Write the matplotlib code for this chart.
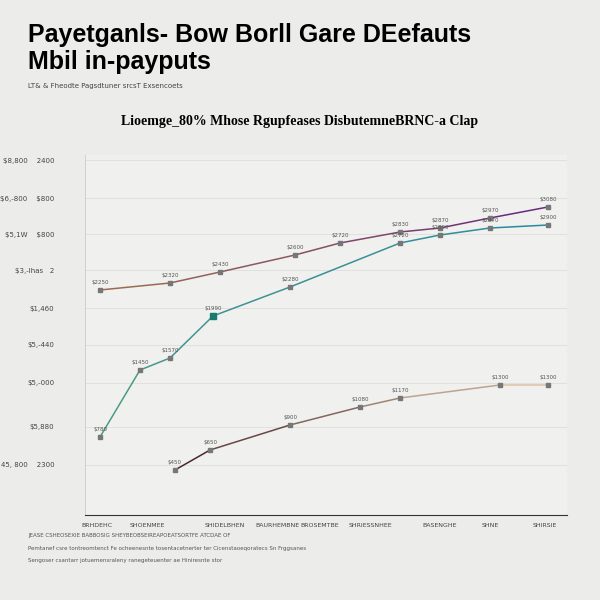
import matplotlib
matplotlib.use("Agg")
import matplotlib.pyplot as plt
from matplotlib.colors import LinearSegmentedColormap

plt.rcParams["text.usetex"] = False

# data (x in category-space, y in chart units)
upper_x = [15, 85, 135, 210, 255, 315, 355, 405, 463]
upper_y = [225, 232, 243, 260, 272, 283, 287, 297, 308]
mid_x = [15, 55, 85, 128, 205, 315, 355, 405, 463]
mid_y = [78, 145, 157, 199, 228, 272, 280, 287, 290]
low_x = [90, 125, 205, 275, 315, 415, 463]
low_y = [45, 65, 90, 108, 117, 130, 130]

ytick_vals = [50, 88, 132, 170, 207, 245, 281, 317, 355]
ytick_labels = ["45, 800    2300", "$5,880", "$5,-000", "$5,-440", "$1,460",
                "$3,-Ihas   2", "$5,1W    $800", "$6,-800    $800",
                "$8,800    2400"]
xtick_vals = [12, 62, 140, 192, 235, 285, 355, 405, 460]
xtick_labels = ["BRHDEHC", "SHOENMEE", "SHIDELBHEN", "BAURHEMBNE", "BROSEMTBE",
                "SHRIESSNHEE", "BASENGHE", "SHNE", "SHIRSIE"]


def esc(s):
    return s.replace("$", r"\$")


def grad_line(ax, xs, ys, c0, c1, lw=1.1):
    cmap = LinearSegmentedColormap.from_list("g", [c0, c1])
    n = len(xs) - 1
    for i in range(n):
        ax.plot(xs[i:i + 2], ys[i:i + 2], color=cmap(i / max(n - 1, 1)),
                lw=lw, solid_capstyle="round")
    for x, y in zip(xs, ys):
        ax.plot(x, y, "s", color="#777777", ms=2.5)
        ax.text(x, y + 6, esc("$%d" % (y * 10)), fontsize=4, color="#555555",
                ha="center")


fig = plt.figure(figsize=(6, 6), dpi=100)
fig.patch.set_facecolor("#ececeb")
ax = fig.add_axes([85 / 600, 85 / 600, 482 / 600, 360 / 600])
ax.set_facecolor("#f0f0ee")
ax.set_xlim(0, 482)
ax.set_ylim(0, 360)
for v in ytick_vals:
    ax.axhline(v, color="#dddddd", lw=0.6, zorder=0)
ax.axvline(0, color="#cccccc", lw=0.6)

grad_line(ax, upper_x, upper_y, "#9a6a55", "#6a2a7a")
grad_line(ax, mid_x, mid_y, "#4a9a88", "#2a8aa0")
ax.plot(mid_x[3], mid_y[3], "s", color="#1a7a70", ms=4)
grad_line(ax, low_x, low_y, "#4a2a2a", "#d9c2a8")

ax.set_yticks(ytick_vals)
ax.set_yticklabels([esc(s) for s in ytick_labels], fontsize=5, color="#444444")
ax.set_xticks(xtick_vals)
ax.set_xticklabels(xtick_labels, fontsize=4.5, color="#444444")
ax.tick_params(length=0, pad=22)
ax.tick_params(axis="x", pad=6)
for s in ["top", "right", "left"]:
    ax.spines[s].set_visible(False)
ax.spines["bottom"].set_color("#333333")

fig.text(28 / 600, 1 - 35 / 600, "Payetganls- Bow Borll Gare DEefauts",
         fontsize=18, fontweight="bold", family="Liberation Sans", va="center")
fig.text(28 / 600, 1 - 62 / 600, "Mbil in-payputs",
         fontsize=18, fontweight="bold", family="Liberation Sans", va="center")
fig.text(28 / 600, 1 - 86 / 600, "LT& & Fheodte Pagsdtuner srcsT Exsencoets",
         fontsize=5, color="#444444", va="center")
fig.text(300 / 600, 1 - 122 / 600,
         "Lioemge_80% Mhose Rgupfeases DisbutemneBRNC-a Clap",
         fontsize=10, fontweight="bold", family="Liberation Serif",
         ha="center", va="center")
fig.text(28 / 600, 1 - 537 / 600,
         "JEASE CSHEOSEXIE BABBOSIG SHEYBEOBSEIREAPOEATSORTFE ATCDAE OF",
         fontsize=4, color="#555555")
fig.text(28 / 600, 1 - 550 / 600,
         "Pemtanef csre tontreomtenct Fe ocheenesnte tosentacetnerter ter Cicenstaoeqoratecs Sn Frggsanes",
         fontsize=4, color="#555555")
fig.text(28 / 600, 1 - 562 / 600,
         "Sengoser csantarr jotuemensraleny ranegeteuenter ae Hiniresnte stor",
         fontsize=4, color="#555555")

fig.savefig("out.png", dpi=100, facecolor=fig.get_facecolor())
